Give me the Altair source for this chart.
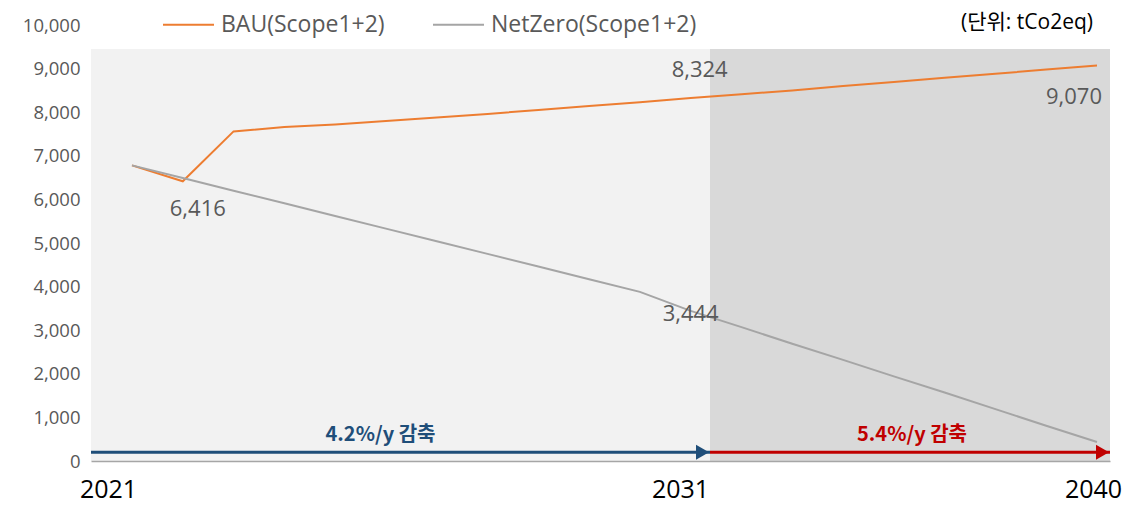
import altair as alt
import pandas as pd

# ---- data ----
years = list(range(2021, 2041))
bau = [6780, 6416, 7560, 7660, 7720, 7800, 7880, 7960, 8050, 8140,
       8230, 8324, 8410, 8500, 8600, 8690, 8790, 8880, 8980, 9070]
netzero = [6780, 6490, 6200, 5910, 5620, 5330, 5040, 4750, 4460, 4170,
           3880, 3444, 3070, 2690, 2320, 1940, 1570, 1190, 810, 436]
series_names = ["BAU(Scope1+2)", "NetZero(Scope1+2)"]
series_colors = ["#ED7D31", "#A5A5A5"]

period_start = [2021, 2031]
period_end = [2031, 2040]
period_fill = ["#F2F2F2", "#D9D9D9"]
period_text = ["4.2%/y 감축", "5.4%/y 감축"]
period_color = ["#1F4E79", "#C00000"]
x_ticks = [2021, 2031, 2040]
y_ticks = list(range(0, 10001, 1000))
band_top = 9450
arrow_level = 200
unit_text = ["(단위: tCo2eq)"]

# ---- tables ----
df = pd.DataFrame({
    "year": years * 2,
    "value": bau + netzero,
    "series": [series_names[0]] * len(years) + [series_names[1]] * len(years),
})
periods = pd.DataFrame({
    "start": period_start,
    "end": period_end,
    "fill": period_fill,
    "acolor": period_color,
    "label": period_text,
    "base": [0, 0],
    "top": [band_top, band_top],
    "level": [arrow_level, arrow_level],
})
unit_df = pd.DataFrame({"x": [x_ticks[-1]], "y": [y_ticks[-1]], "text": unit_text})

W, H = 1019, 436
yscale = alt.Scale(domain=[0, 10000], nice=False, zero=True)
pscale = alt.Scale(domain=x_ticks, range=[0, 619, W], nice=False, zero=False)
yrscale = alt.Scale(domain=[years[0], years[-1]], range=[41, 1006], nice=False, zero=False)

yaxis = alt.Axis(values=y_ticks, labelExpr="format(datum.value, ',')", labelFontSize=18.5,
                 labelColor="#595959", labelFont="Open Sans", ticks=False, domain=False,
                 grid=False, labelPadding=11, title=None)
xaxis = alt.Axis(values=x_ticks, labelExpr="format(datum.value, 'd')", labelFontSize=25,
                 labelColor="#000000", labelFont="Open Sans", ticks=False,
                 domainColor="#A6A6A6", domainWidth=1.5, grid=False, title=None,
                 labelPadding=16, labelFlush=False, labelOverlap=False, zindex=1,
                 labelOffset={"condition": [{"test": "datum.value == 2021", "value": 17},
                                            {"test": "datum.value == 2031", "value": -30}],
                              "value": -17})

base_p = alt.Chart(periods)
bg = base_p.mark_rect().encode(
    x=alt.X("start:Q", scale=pscale, axis=xaxis),
    x2="end:Q",
    y=alt.Y("base:Q", scale=yscale, axis=yaxis),
    y2="top:Q",
    fill=alt.Fill("fill:N", scale=None),
)
rules = base_p.mark_rule(strokeWidth=3).encode(
    x=alt.X("start:Q", scale=pscale, axis=xaxis),
    x2="end:Q",
    y=alt.Y("level:Q", scale=yscale, axis=yaxis),
    stroke=alt.Stroke("acolor:N", scale=None),
)
heads = base_p.mark_point(shape="triangle-right", filled=True, size=225, opacity=1,
                          strokeWidth=0, xOffset=-7.5).encode(
    x=alt.X("end:Q", scale=pscale, axis=xaxis),
    y=alt.Y("level:Q", scale=yscale, axis=yaxis),
    fill=alt.Fill("acolor:N", scale=None),
)
ptexts = []
for i, ddx in enumerate([-20, 2]):
    ptexts.append(
        base_p.transform_filter(alt.datum.start == period_start[i])
        .transform_calculate(mid="(datum.start + datum.end) / 2")
        .mark_text(font="Noto Sans CJK KR", fontWeight="bold", fontSize=20,
                   baseline="middle", align="center", dx=ddx, dy=-17)
        .encode(
            x=alt.X("mid:Q", scale=pscale, axis=xaxis),
            y=alt.Y("level:Q", scale=yscale, axis=yaxis),
            text="label:N",
            fill=alt.Fill("acolor:N", scale=None),
        )
    )
unit = alt.Chart(unit_df).mark_text(
    font="Open Sans, Noto Sans CJK KR", fontSize=21, fontWeight="normal", color="#000000",
    align="right", baseline="middle", dx=-17, dy=-2,
).encode(
    x=alt.X("x:Q", scale=pscale, axis=xaxis),
    y=alt.Y("y:Q", scale=yscale, axis=yaxis),
    text="text:N",
)
period_layer = alt.layer(bg, rules, heads, *ptexts, unit)

base_l = alt.Chart(df)
lines = base_l.mark_line(strokeWidth=2).encode(
    x=alt.X("year:Q", scale=yrscale, axis=None),
    y=alt.Y("value:Q", scale=yscale, axis=yaxis),
    color=alt.Color("series:N", sort=series_names,
                    scale=alt.Scale(domain=series_names, range=series_colors),
                    legend=alt.Legend(orient="none", legendX=71, legendY=-27,
                                      direction="horizontal", title=None,
                                      symbolType="stroke", symbolSize=2601,
                                      symbolStrokeWidth=2, labelFontSize=23,
                                      labelColor="#595959", labelFont="Open Sans",
                                      labelLimit=400, columnPadding=44, labelOffset=6)),
)
label_specs = [(series_names[0], 2022, 15, 28), (series_names[0], 2032, 9, -28),
               (series_names[1], 2032, 0, 3), (series_names[0], 2040, -23, 31)]
labels = []
for s, yr, ddx, ddy in label_specs:
    labels.append(
        base_l.transform_filter((alt.datum.series == s) & (alt.datum.year == yr))
        .mark_text(font="Open Sans", fontSize=22, color="#595959",
                   baseline="middle", align="center", dx=ddx, dy=ddy)
        .encode(
            x=alt.X("year:Q", scale=yrscale, axis=None),
            y=alt.Y("value:Q", scale=yscale, axis=yaxis),
            text=alt.Text("value:Q", format=","),
        )
    )
line_layer = alt.layer(lines, *labels)

chart = (
    alt.layer(period_layer, line_layer)
    .resolve_scale(x="independent")
    .properties(
        width=W, height=H,
        padding={"left": 83, "top": 17, "right": 20, "bottom": 42},
        autosize=alt.AutoSizeParams(type="none"),
        background="#FFFFFF",
    )
    .configure_view(stroke=None)
)

chart.save("out.html", embed_options={"renderer": "svg", "actions": False})
